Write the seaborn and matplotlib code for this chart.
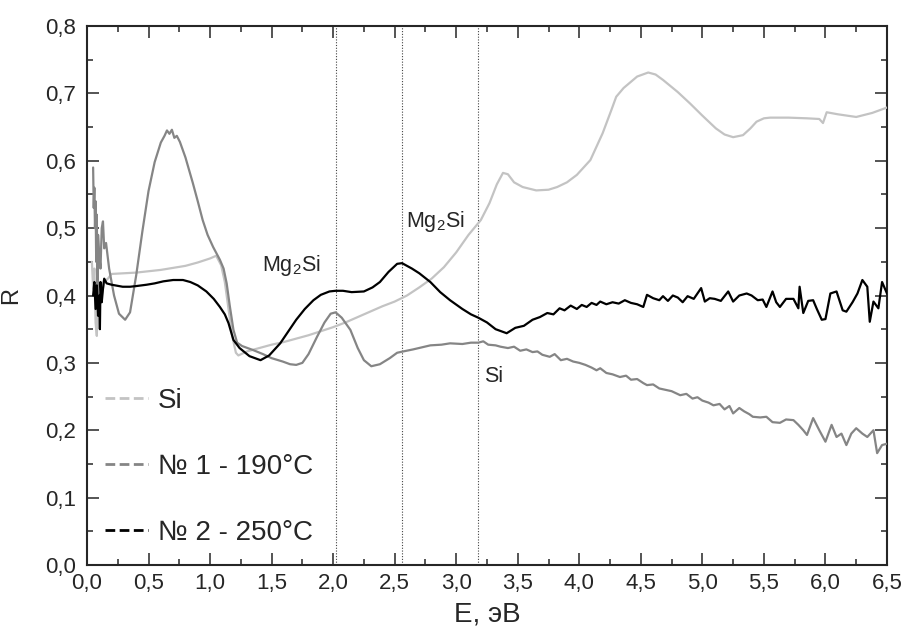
import matplotlib
matplotlib.use('Agg')
import matplotlib.pyplot as plt
from matplotlib.lines import Line2D
from matplotlib.ticker import MultipleLocator, FuncFormatter
import seaborn as sns

# Si reference
si_x = [0.04, 0.05, 0.06, 0.07, 0.08, 0.09, 0.10, 0.11, 0.12, 0.14, 0.17, 0.20, 0.30, 0.40, 0.50,
        0.60, 0.70, 0.80, 0.90, 1.00, 1.05, 1.09, 1.12, 1.15, 1.18, 1.21, 1.23, 1.30, 1.40, 1.50,
        1.60, 1.70, 1.80, 1.90, 2.00, 2.10, 2.20, 2.30, 2.40, 2.50, 2.60, 2.70, 2.80, 2.90, 3.00,
        3.10, 3.20, 3.27, 3.33, 3.38, 3.42, 3.47, 3.54, 3.65, 3.75, 3.82, 3.90, 3.98, 4.09, 4.19,
        4.26, 4.30, 4.36, 4.47, 4.56, 4.62, 4.68, 4.80, 4.90, 5.00, 5.11, 5.18, 5.25, 5.33, 5.39,
        5.44, 5.50, 5.55, 5.70, 5.85, 5.95, 5.98, 6.01, 6.10, 6.25, 6.38, 6.50]
si_y = [0.45, 0.41, 0.44, 0.36, 0.34, 0.40, 0.38, 0.42, 0.40, 0.42, 0.425, 0.432, 0.433, 0.434, 0.436,
        0.438, 0.441, 0.444, 0.449, 0.455, 0.459, 0.445, 0.42, 0.38, 0.34, 0.315, 0.311, 0.317, 0.322, 0.327,
        0.331, 0.336, 0.341, 0.347, 0.353, 0.360, 0.368, 0.376, 0.384, 0.391, 0.400, 0.412, 0.425, 0.442, 0.464,
        0.490, 0.512, 0.537, 0.565, 0.582, 0.580, 0.568, 0.561, 0.556, 0.557, 0.561, 0.568, 0.579, 0.601, 0.641,
        0.675, 0.695, 0.708, 0.725, 0.731, 0.728, 0.720, 0.702, 0.685, 0.667, 0.648, 0.639, 0.635, 0.638, 0.648,
        0.658, 0.663, 0.664, 0.664, 0.663, 0.662, 0.656, 0.672, 0.669, 0.665, 0.671, 0.679]

# sample No 1 - 190C
s1_x = [0.05, 0.055, 0.06, 0.065, 0.07, 0.075, 0.08, 0.085, 0.09, 0.10, 0.11, 0.12, 0.13, 0.14, 0.155,
        0.18, 0.22, 0.26, 0.31, 0.35, 0.40, 0.45, 0.50, 0.55, 0.60, 0.63, 0.65, 0.67, 0.69, 0.71,
        0.73, 0.755, 0.80, 0.86, 0.90, 0.94, 0.98, 1.025, 1.08, 1.11, 1.135, 1.16, 1.19, 1.22, 1.26,
        1.35, 1.43, 1.50, 1.59, 1.65, 1.70, 1.75, 1.80, 1.87, 1.93, 1.98, 2.02, 2.07, 2.14, 2.20,
        2.25, 2.31, 2.38, 2.46, 2.52, 2.57, 2.65, 2.72, 2.79, 2.88, 2.95, 3.05, 3.12, 3.18, 3.22,
        3.26, 3.32, 3.36, 3.42, 3.47, 3.52, 3.57, 3.62, 3.66, 3.70, 3.76, 3.80, 3.85, 3.90, 3.95,
        4.00, 4.05, 4.10, 4.14, 4.17, 4.22, 4.27, 4.33, 4.38, 4.42, 4.47, 4.52, 4.55, 4.60, 4.65,
        4.70, 4.75, 4.82, 4.87, 4.92, 4.96, 5.00, 5.05, 5.09, 5.14, 5.18, 5.22, 5.25, 5.30, 5.34,
        5.38, 5.41, 5.47, 5.52, 5.57, 5.63, 5.68, 5.74, 5.78, 5.82, 5.85, 5.90, 5.95, 6.00, 6.05,
        6.09, 6.13, 6.17, 6.21, 6.25, 6.30, 6.34, 6.39, 6.42, 6.46, 6.50]
s1_y = [0.59, 0.53, 0.56, 0.50, 0.54, 0.45, 0.52, 0.40, 0.49, 0.46, 0.44, 0.50, 0.51, 0.47, 0.478,
        0.44, 0.40, 0.373, 0.364, 0.375, 0.430, 0.495, 0.555, 0.598, 0.627, 0.637, 0.645, 0.640, 0.646, 0.634,
        0.637, 0.628, 0.605, 0.567, 0.540, 0.512, 0.490, 0.472, 0.453, 0.440, 0.418, 0.385, 0.349, 0.330, 0.325,
        0.319, 0.313, 0.307, 0.302, 0.298, 0.297, 0.300, 0.313, 0.339, 0.360, 0.373, 0.375, 0.367, 0.349, 0.322,
        0.304, 0.295, 0.298, 0.307, 0.315, 0.317, 0.320, 0.323, 0.326, 0.327, 0.329, 0.328, 0.330, 0.330, 0.332,
        0.327, 0.326, 0.324, 0.322, 0.324, 0.318, 0.320, 0.316, 0.317, 0.312, 0.309, 0.313, 0.304, 0.306, 0.302,
        0.300, 0.297, 0.293, 0.289, 0.292, 0.285, 0.283, 0.279, 0.281, 0.275, 0.276, 0.270, 0.267, 0.268, 0.262,
        0.260, 0.258, 0.252, 0.254, 0.247, 0.249, 0.244, 0.241, 0.237, 0.239, 0.231, 0.236, 0.225, 0.233, 0.228,
        0.224, 0.220, 0.219, 0.220, 0.212, 0.211, 0.216, 0.215, 0.208, 0.200, 0.193, 0.218, 0.200, 0.183, 0.208,
        0.190, 0.195, 0.178, 0.195, 0.203, 0.195, 0.190, 0.200, 0.166, 0.178, 0.180]

# sample No 2 - 250C
s2_x = [0.05, 0.06, 0.07, 0.08, 0.09, 0.10, 0.105, 0.11, 0.12, 0.13, 0.14, 0.16, 0.20, 0.29, 0.35,
        0.40, 0.485, 0.55, 0.62, 0.70, 0.78, 0.84, 0.90, 0.97, 1.03, 1.08, 1.12, 1.15, 1.19, 1.24,
        1.32, 1.41, 1.48, 1.57, 1.64, 1.70, 1.77, 1.84, 1.90, 1.97, 2.02, 2.08, 2.15, 2.25, 2.32,
        2.38, 2.45, 2.52, 2.56, 2.58, 2.64, 2.70, 2.79, 2.87, 2.95, 3.05, 3.12, 3.18, 3.25, 3.32,
        3.41, 3.48, 3.55, 3.62, 3.68, 3.74, 3.79, 3.84, 3.88, 3.93, 3.98, 4.02, 4.06, 4.10, 4.14,
        4.17, 4.22, 4.27, 4.32, 4.37, 4.42, 4.47, 4.52, 4.55, 4.60, 4.65, 4.68, 4.72, 4.76, 4.80,
        4.84, 4.88, 4.93, 4.99, 5.02, 5.06, 5.10, 5.15, 5.21, 5.25, 5.30, 5.36, 5.40, 5.45, 5.49,
        5.52, 5.57, 5.60, 5.63, 5.68, 5.74, 5.78, 5.79, 5.82, 5.86, 5.90, 5.93, 5.97, 6.00, 6.04,
        6.09, 6.14, 6.17, 6.22, 6.26, 6.30, 6.34, 6.36, 6.39, 6.43, 6.46, 6.50]
s2_y = [0.40, 0.42, 0.38, 0.415, 0.37, 0.40, 0.35, 0.42, 0.39, 0.41, 0.425, 0.418, 0.416, 0.413, 0.413,
        0.414, 0.416, 0.418, 0.421, 0.423, 0.423, 0.420, 0.415, 0.406, 0.395, 0.383, 0.372, 0.359, 0.334, 0.322,
        0.310, 0.304, 0.311, 0.329, 0.348, 0.364, 0.380, 0.393, 0.401, 0.406, 0.407, 0.407, 0.405, 0.406, 0.412,
        0.420, 0.435, 0.447, 0.448, 0.446, 0.440, 0.433, 0.420, 0.405, 0.393, 0.380, 0.372, 0.367, 0.360, 0.350,
        0.344, 0.352, 0.355, 0.364, 0.368, 0.374, 0.372, 0.381, 0.378, 0.385, 0.380, 0.386, 0.383, 0.389, 0.386,
        0.391, 0.387, 0.390, 0.388, 0.393, 0.389, 0.387, 0.383, 0.401, 0.396, 0.393, 0.399, 0.392, 0.400, 0.397,
        0.390, 0.399, 0.395, 0.411, 0.391, 0.396, 0.395, 0.392, 0.406, 0.391, 0.400, 0.403, 0.400, 0.393, 0.394,
        0.383, 0.406, 0.390, 0.383, 0.395, 0.395, 0.381, 0.413, 0.374, 0.392, 0.393, 0.380, 0.364, 0.365, 0.403,
        0.406, 0.378, 0.376, 0.390, 0.403, 0.423, 0.413, 0.361, 0.391, 0.381, 0.420, 0.403]

peaks_x = [2.02, 2.56, 3.18]
labels = ['Si', '№ 1 - 190°C', '№ 2 - 250°C']
colors = ['#c3c3c3', '#858585', '#000000']

sns.set_style('ticks')
plt.rcParams['font.family'] = ['Liberation Sans', 'DejaVu Sans']
plt.rcParams['mathtext.default'] = 'regular'

fig = plt.figure(figsize=(9.05, 6.3), dpi=100)
ax = fig.add_axes([0.0961, 0.1032, 0.8840, 0.8555])

for xv in peaks_x:
    ax.axvline(xv, color='#444444', lw=0.8, ls=(0, (1, 1.5)), zorder=1)

series = [(si_x, si_y), (s1_x, s1_y), (s2_x, s2_y)]
for (xs, ys), c in zip(series, colors):
    sns.lineplot(x=xs, y=ys, ax=ax, color=c, lw=1.6, estimator=None, sort=False, zorder=3)

ax.set_xlim(0, 6.5)
ax.set_ylim(0, 0.8)
ax.xaxis.set_major_locator(MultipleLocator(0.5))
ax.xaxis.set_minor_locator(MultipleLocator(0.25))
ax.yaxis.set_major_locator(MultipleLocator(0.1))
ax.yaxis.set_minor_locator(MultipleLocator(0.05))
comma = FuncFormatter(lambda v, p: f'{v:.1f}'.replace('.', ','))
ax.xaxis.set_major_formatter(comma)
ax.yaxis.set_major_formatter(comma)
ax.tick_params(which='both', direction='in', top=True, right=True, width=1.1)
ax.tick_params(which='major', length=8.5, labelsize=16)
ax.tick_params(axis='x', which='major', pad=6)
ax.tick_params(axis='y', which='major', pad=8)
ax.tick_params(which='minor', length=4.5)
for s in ax.spines.values():
    s.set_linewidth(1.5)

ax.set_xlabel('E, эВ', fontsize=20)
ax.set_ylabel('R', fontsize=17)
ax.xaxis.set_label_coords(0.5, -0.0686)
ax.yaxis.set_label_coords(-0.081, 0.5)

ax.text(1.42, 0.436, 'Mg$_2$Si', fontsize=15.5, ha='left', va='baseline')
ax.text(2.59, 0.501, 'Mg$_2$Si', fontsize=15.5, ha='left', va='baseline')
ax.text(3.23, 0.272, 'Si', fontsize=15.5, ha='left', va='baseline')

handles = [Line2D([], [], color=c, lw=2, ls=(0, (3.5, 1.6))) for c in colors]
ax.legend(handles, labels, loc='lower left', bbox_to_anchor=(0.0225, 0.035),
          frameon=False, fontsize=20, handlelength=1.55, handletextpad=0.36,
          labelspacing=1.45, borderpad=0, borderaxespad=0)

plt.savefig('out.png', dpi=100)
